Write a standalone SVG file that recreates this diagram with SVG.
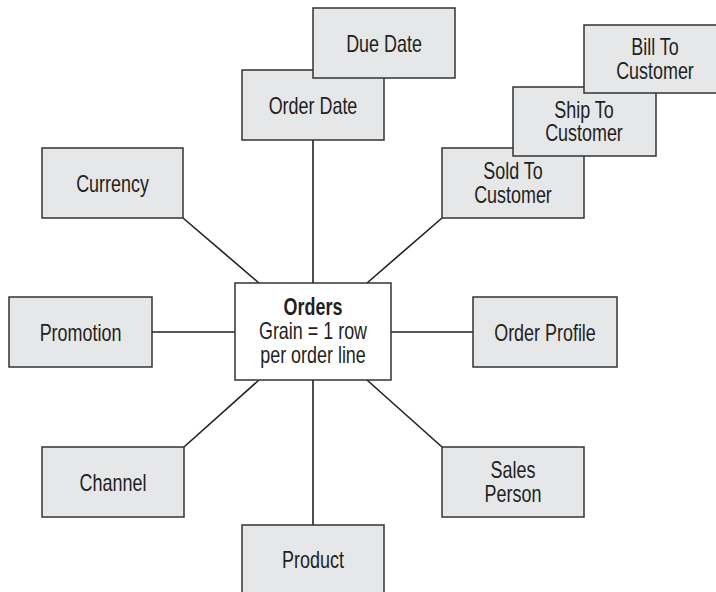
<svg xmlns="http://www.w3.org/2000/svg" width="716" height="592" viewBox="0 0 716 592">
<style>
.box{fill:#e6e7e8;stroke:#333;stroke-width:1.5}
.main{fill:#fff;stroke:#333;stroke-width:1.5}
.ln{stroke:#231f20;stroke-width:1.6;fill:none}
text{font-family:"Liberation Sans",Arial,sans-serif;font-size:23px;fill:#231f20;text-anchor:middle}
.b{font-weight:bold}
</style>
<rect width="716" height="592" fill="#fff"/>
<g id="connectors">
<line class="ln" x1="313" y1="140" x2="313" y2="283"/>
<line class="ln" x1="183" y1="218" x2="259" y2="283"/>
<line class="ln" x1="442" y1="218" x2="367" y2="283"/>
<line class="ln" x1="152" y1="332" x2="235" y2="332"/>
<line class="ln" x1="391" y1="332" x2="473" y2="332"/>
<line class="ln" x1="184" y1="447" x2="259" y2="380"/>
<line class="ln" x1="442" y1="447" x2="367" y2="380"/>
<line class="ln" x1="313" y1="380" x2="313" y2="525"/>
</g>
<g id="order-date"><rect class="box" x="242" y="70" width="142" height="70"/><text transform="translate(313,114) scale(0.78,1)">Order Date</text></g>
<g id="due-date"><rect class="box" x="313" y="8" width="142" height="70"/><text transform="translate(384,52) scale(0.78,1)">Due Date</text></g>
<g id="sold-to"><rect class="box" x="442" y="148" width="142" height="70"/><text transform="translate(513,179) scale(0.78,1)"><tspan x="0" y="0">Sold To</tspan><tspan x="0" y="24">Customer</tspan></text></g>
<g id="ship-to"><rect class="box" x="513" y="87" width="143" height="69"/><text transform="translate(584,117.5) scale(0.78,1)"><tspan x="0" y="0">Ship To</tspan><tspan x="0" y="24">Customer</tspan></text></g>
<g id="bill-to"><rect class="box" x="584" y="25" width="142" height="68"/><text transform="translate(655,55) scale(0.78,1)"><tspan x="0" y="0">Bill To</tspan><tspan x="0" y="24">Customer</tspan></text></g>
<g id="currency"><rect class="box" x="42" y="148" width="141" height="70"/><text transform="translate(112.5,192) scale(0.78,1)">Currency</text></g>
<g id="promotion"><rect class="box" x="9" y="297" width="143" height="70"/><text transform="translate(80.5,341) scale(0.78,1)">Promotion</text></g>
<g id="orders"><rect class="main" x="235" y="283" width="156" height="97"/><text transform="translate(313,315) scale(0.78,1)"><tspan class="b" x="0" y="0">Orders</tspan><tspan x="0" y="24">Grain = 1 row</tspan><tspan x="0" y="48">per order line</tspan></text></g>
<g id="order-profile"><rect class="box" x="473" y="297" width="144" height="70"/><text transform="translate(545,341) scale(0.78,1)">Order Profile</text></g>
<g id="channel"><rect class="box" x="42" y="447" width="142" height="70"/><text transform="translate(113,491) scale(0.78,1)">Channel</text></g>
<g id="sales-person"><rect class="box" x="442" y="447" width="142" height="70"/><text transform="translate(513,478) scale(0.78,1)"><tspan x="0" y="0">Sales</tspan><tspan x="0" y="24">Person</tspan></text></g>
<g id="product"><rect class="box" x="242" y="525" width="142" height="72"/><text transform="translate(313,568) scale(0.78,1)">Product</text></g>
</svg>
